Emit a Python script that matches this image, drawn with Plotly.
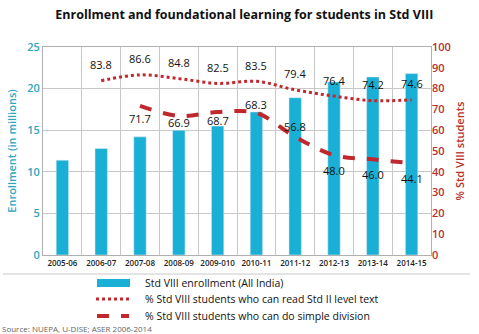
import plotly.graph_objects as go

years = ["2005-06", "2006-07", "2007-08", "2008-09", "2009-010", "2010-11",
         "2011-12", "2012-13", "2013-14", "2014-15"]
enrollment = [11.4, 12.8, 14.2, 15.0, 15.5, 17.2, 18.9, 20.8, 21.4, 21.8]
read_years = years[1:]
read_pct = [83.8, 86.6, 84.8, 82.5, 83.5, 79.4, 76.4, 74.2, 74.6]
div_years = years[2:]
div_pct = [71.7, 66.9, 68.7, 68.3, 56.8, 48.0, 46.0, 44.1]
legend_names = ["Std VIII enrollment (All India)",
                "% Std VIII students who can read Std II level text",
                "% Std VIII students who can do simple division"]

# label placement (pixels, positive = below the point)
read_label_shift = [16] * len(read_pct)
div_label_shift = [-13, -7, -8, 8, 10, -15, -15, -15]

TEAL = "#1ab0d5"
TEAL_TXT = "#2ea6bf"
RED = "#c0282d"
RED_TXT = "#b7312c"
FONT = "Open Sans"

# plot area in pixels: x 43..431, y 47..255
def px(x):
    return (x - 43) / 388.0

def py(y):
    return (255 - y) / 208.0

fig = go.Figure()
fig.add_trace(go.Bar(x=years, y=enrollment, name=legend_names[0],
                     marker=dict(color=TEAL), yaxis="y"))
fig.add_trace(go.Scatter(x=read_years, y=read_pct, mode="lines",
                         name=legend_names[1],
                         line=dict(color=RED, width=3, dash="dot", shape="spline"),
                         yaxis="y2"))
fig.add_trace(go.Scatter(x=div_years, y=div_pct, mode="lines",
                         name=legend_names[2],
                         line=dict(color=RED, width=4, dash="dash", shape="spline"),
                         yaxis="y2"))

annotations = []
for xs, ys, shifts in ((read_years, read_pct, read_label_shift),
                       (div_years, div_pct, div_label_shift)):
    for xv, yv, s in zip(xs, ys, shifts):
        annotations.append(dict(x=xv, y=yv, xref="x", yref="y2", text=f"{yv:.1f}",
                                showarrow=False, yshift=s, xanchor="center", yanchor="middle",
                                font=dict(size=11, color="#111", family=FONT)))

rows = [283, 299, 316]
shapes = [
    dict(type="line", xref="paper", yref="paper", x0=px(3), x1=px(470),
         y0=py(274), y1=py(274), line=dict(color="#c8c8c8", width=1)),
    dict(type="rect", xref="paper", yref="paper", x0=px(97), x1=px(130),
         y0=py(279), y1=py(287), fillcolor=TEAL, line=dict(width=0)),
    dict(type="line", xref="paper", yref="paper", x0=px(96), x1=px(129),
         y0=py(rows[1]), y1=py(rows[1]), line=dict(color=RED, width=3, dash="dot")),
    dict(type="line", xref="paper", yref="paper", x0=px(97), x1=px(129),
         y0=py(rows[2]), y1=py(rows[2]), line=dict(color=RED, width=4, dash="dash")),
]
annotations += [dict(text=legend_names[i], xref="paper", yref="paper", x=px(143), y=py(rows[i]),
                     xanchor="left", yanchor="middle", showarrow=False,
                     font=dict(size=10.5, color="#111", family=FONT)) for i in range(3)]
annotations.append(dict(text="Source: NUEPA, U-DISE; ASER 2006-2014", xref="paper", yref="paper",
                        x=px(0), y=py(328), xanchor="left", yanchor="middle", showarrow=False,
                        font=dict(size=8, color="#666", family=FONT)))

fig.update_layout(
    width=479, height=334,
    margin=dict(l=43, r=48, t=47, b=79, autoexpand=False),
    paper_bgcolor="white", plot_bgcolor="white",
    font=dict(family=FONT),
    bargap=0.68,
    showlegend=False,
    title=dict(text="<b>Enrollment and foundational learning for students in Std VIII</b>",
               x=0.51, xanchor="center", y=0.955, yanchor="middle",
               font=dict(size=12.5, color="#111", family=FONT)),
    xaxis=dict(type="category", tickson="boundaries", showgrid=True, gridcolor="#c8c8c8",
               gridwidth=1, ticks="", tickfont=dict(size=8, color="#222", family=FONT, weight=600),
               tickangle=0, showline=True, linecolor="#b0b0b0", mirror=True,
               range=[-0.5, 9.5]),
    yaxis=dict(range=[0, 25], dtick=5, showgrid=True, gridcolor="#c8c8c8",
               tickfont=dict(size=11, color=TEAL_TXT, family=FONT, weight=600), zeroline=False,
               showline=True, linecolor="#b0b0b0", mirror=True,
               title=dict(text="Enrollment (in millions)", standoff=8,
                          font=dict(size=11, color=TEAL_TXT, family=FONT, weight=600))),
    yaxis2=dict(range=[0, 100], dtick=10, overlaying="y", side="right", showgrid=False,
                tickfont=dict(size=11, color=RED_TXT, family=FONT, weight=600), zeroline=False,
                title=dict(text="% Std VIII students", standoff=6,
                           font=dict(size=11, color=RED_TXT, family=FONT, weight=600))),
    shapes=shapes,
    annotations=annotations,
)

fig.write_html("out.html")
